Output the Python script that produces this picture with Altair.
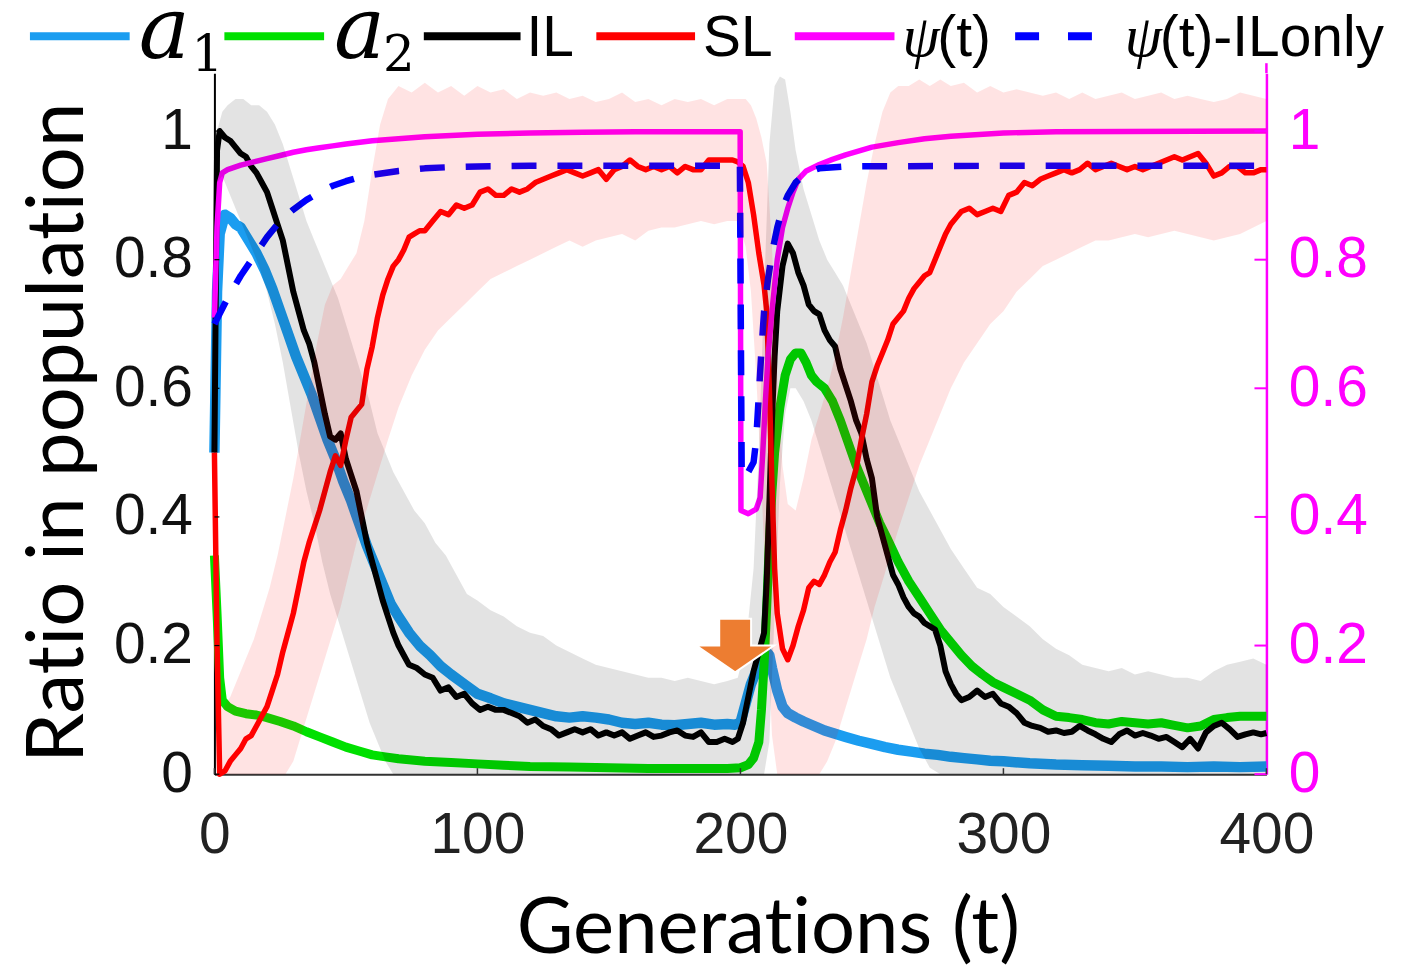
import altair as alt
import pandas as pd

# ---------------- data ----------------
A1 = [(0,0.50),(1,0.75),(2,0.84),(4,0.87),(6,0.865),(8,0.855),(10,0.85),(13,0.83),(16,0.81),(19,0.785),
      (22,0.755),(25,0.72),(28,0.685),(31,0.65),(34,0.62),(37,0.59),(40,0.555),(43,0.52),(46,0.49),(49,0.455),
      (52,0.425),(55,0.39),(58,0.355),(61,0.325),(64,0.295),(67,0.265),(70,0.245),(74,0.22),(78,0.20),(82,0.185),
      (86,0.168),(90,0.155),(95,0.14),(100,0.125),(105,0.118),(110,0.11),(115,0.105),(120,0.10),(125,0.095),
      (130,0.09),(135,0.088),(140,0.09),(145,0.088),(150,0.085),(155,0.08),(160,0.078),(165,0.08),(170,0.077),
      (175,0.076),(180,0.078),(185,0.08),(190,0.077),(195,0.078),(198,0.077),(200,0.08),(202,0.11),(204,0.14),
      (206,0.16),(208,0.18),(210,0.19),(211,0.185),(212,0.165),(214,0.13),(216,0.105),(218,0.095),(221,0.088),
      (224,0.082),(228,0.075),(232,0.068),(236,0.063),(240,0.058),(245,0.052),(250,0.047),(255,0.042),(260,0.038),
      (265,0.035),(270,0.032),(275,0.03),(280,0.027),(285,0.025),(290,0.023),(295,0.021),(300,0.02),(310,0.017),
      (320,0.015),(330,0.014),(340,0.013),(350,0.012),(360,0.012),(370,0.011),(380,0.012),(390,0.011),(400,0.012)]

A2 = [(0,0.34),(1,0.25),(2,0.15),(3,0.115),(5,0.105),(8,0.098),(12,0.094),(16,0.092),(20,0.088),(25,0.082),
      (30,0.075),(35,0.066),(40,0.058),(45,0.05),(50,0.042),(55,0.036),(60,0.03),(65,0.027),(70,0.024),(80,0.02),
      (90,0.018),(100,0.016),(110,0.014),(120,0.012),(135,0.011),(150,0.01),(165,0.009),(180,0.009),(195,0.009),
      (200,0.01),(203,0.015),(205,0.025),(207,0.05),(208,0.10),(209,0.17),(210,0.26),(211,0.36),(212,0.44),
      (213,0.50),(215,0.57),(217,0.62),(219,0.645),(221,0.655),(223,0.655),(225,0.64),(227,0.62),(229,0.61),
      (232,0.60),(235,0.58),(238,0.55),(241,0.515),(244,0.48),(247,0.45),(250,0.42),(253,0.39),(256,0.365),
      (260,0.33),(264,0.30),(268,0.275),(272,0.25),(276,0.225),(280,0.205),(284,0.185),(288,0.168),(292,0.155),
      (296,0.143),(300,0.135),(305,0.125),(310,0.115),(315,0.10),(320,0.09),(325,0.088),(330,0.085),(335,0.08),
      (340,0.078),(345,0.082),(350,0.08),(355,0.078),(360,0.08),(365,0.076),(370,0.072),(375,0.075),(380,0.085),
      (385,0.088),(390,0.09),(395,0.09),(400,0.09)]

IL = [(0,0.50),(1,0.97),(2,1.00),(4,0.99),(6,0.985),(8,0.975),(10,0.965),(12,0.96),(14,0.945),(16,0.935),
      (18,0.92),(20,0.905),(22,0.88),(24,0.855),(26,0.83),(28,0.79),(30,0.75),(32,0.72),(34,0.69),(36,0.67),
      (38,0.64),(40,0.60),(42,0.56),(44,0.525),(46,0.52),(48,0.53),(50,0.49),(52,0.465),(54,0.44),(56,0.40),
      (58,0.36),(60,0.33),(62,0.30),(64,0.27),(66,0.245),(68,0.22),(70,0.20),(72,0.185),(74,0.17),(77,0.165),
      (80,0.155),(83,0.15),(86,0.13),(89,0.135),(92,0.12),(95,0.125),(98,0.11),(101,0.10),(104,0.105),(107,0.10),
      (110,0.10),(113,0.095),(116,0.09),(119,0.08),(122,0.085),(125,0.075),(128,0.07),(131,0.06),(134,0.065),
      (137,0.07),(140,0.065),(143,0.07),(146,0.06),(149,0.065),(152,0.06),(155,0.065),(158,0.055),(161,0.06),
      (164,0.065),(167,0.058),(170,0.06),(173,0.065),(176,0.068),(179,0.06),(182,0.058),(185,0.065),(188,0.05),
      (191,0.05),(194,0.055),(197,0.05),(199,0.055),(201,0.08),(203,0.12),(205,0.16),(207,0.19),(209,0.22),
      (210,0.30),(211,0.42),(212,0.55),(213,0.65),(214,0.72),(216,0.79),(218,0.825),(220,0.81),(222,0.78),
      (224,0.76),(226,0.73),(228,0.72),(230,0.715),(232,0.69),(234,0.675),(236,0.665),(238,0.63),(240,0.605),
      (242,0.58),(244,0.55),(246,0.53),(248,0.49),(250,0.46),(252,0.40),(254,0.37),(256,0.34),(258,0.31),
      (260,0.295),(262,0.275),(264,0.26),(266,0.25),(268,0.245),(270,0.235),(272,0.23),(274,0.225),(276,0.20),
      (278,0.16),(280,0.14),(282,0.125),(284,0.115),(287,0.12),(290,0.13),(293,0.12),(296,0.125),(299,0.11),
      (302,0.105),(305,0.095),(308,0.08),(311,0.075),(314,0.072),(317,0.066),(320,0.068),(323,0.064),(326,0.066),
      (329,0.075),(332,0.068),(335,0.062),(338,0.055),(341,0.05),(344,0.062),(347,0.068),(350,0.06),(353,0.064),
      (356,0.06),(359,0.055),(362,0.058),(365,0.05),(368,0.042),(371,0.055),(374,0.04),(377,0.065),(380,0.075),
      (383,0.08),(386,0.07),(389,0.058),(392,0.062),(395,0.065),(398,0.062),(400,0.064)]

SL = [(0,0.50),(1,0.20),(2,0.0),(4,0.005),(6,0.02),(8,0.03),(10,0.04),(12,0.055),(14,0.06),(16,0.075),
      (18,0.09),(20,0.105),(22,0.13),(24,0.155),(26,0.19),(28,0.22),(30,0.25),(32,0.29),(34,0.33),(36,0.36),
      (38,0.385),(40,0.41),(42,0.44),(44,0.47),(46,0.495),(48,0.48),(50,0.52),(52,0.555),(54,0.565),(56,0.575),
      (58,0.63),(60,0.665),(62,0.71),(64,0.745),(66,0.77),(68,0.79),(70,0.80),(72,0.815),(74,0.835),(76,0.84),
      (78,0.845),(80,0.845),(83,0.86),(86,0.875),(89,0.87),(92,0.885),(95,0.88),(98,0.885),(101,0.905),(104,0.91),
      (107,0.90),(110,0.90),(113,0.91),(116,0.905),(119,0.91),(122,0.92),(125,0.925),(128,0.93),(131,0.935),
      (134,0.94),(137,0.935),(140,0.93),(143,0.935),(146,0.94),(149,0.925),(152,0.94),(155,0.945),(158,0.955),
      (161,0.945),(164,0.94),(167,0.945),(170,0.94),(173,0.945),(176,0.935),(179,0.945),(182,0.94),(185,0.94),
      (188,0.955),(191,0.955),(194,0.955),(197,0.955),(199,0.952),(201,0.945),(203,0.92),(205,0.87),(207,0.81),
      (209,0.76),(210,0.72),(211,0.60),(212,0.45),(213,0.32),(214,0.25),(216,0.195),(218,0.178),(220,0.20),
      (222,0.23),(224,0.255),(226,0.29),(228,0.30),(230,0.295),(232,0.31),(234,0.33),(236,0.345),(238,0.38),
      (240,0.41),(242,0.445),(244,0.475),(246,0.52),(248,0.56),(250,0.61),(252,0.635),(254,0.655),(256,0.675),
      (258,0.70),(260,0.71),(262,0.72),(264,0.74),(266,0.755),(268,0.765),(270,0.775),(272,0.78),(274,0.80),
      (276,0.82),(278,0.84),(280,0.855),(282,0.865),(284,0.875),(287,0.88),(290,0.87),(293,0.875),(296,0.88),
      (299,0.875),(302,0.90),(305,0.905),(308,0.92),(311,0.915),(314,0.925),(317,0.93),(320,0.935),(323,0.94),
      (326,0.935),(329,0.94),(332,0.95),(335,0.94),(338,0.945),(341,0.95),(344,0.945),(347,0.94),(350,0.945),
      (353,0.94),(356,0.945),(359,0.95),(362,0.955),(365,0.96),(368,0.955),(371,0.96),(374,0.965),(377,0.95),
      (380,0.93),(383,0.935),(386,0.945),(389,0.945),(392,0.935),(395,0.935),(398,0.94),(400,0.94)]

PSI = [(0,0.71),(1,0.85),(2,0.92),(3,0.935),(5,0.94),(10,0.947),(15,0.952),(20,0.957),(25,0.962),(30,0.967),
       (35,0.971),(40,0.974),(45,0.977),(50,0.98),(60,0.985),(70,0.988),(80,0.991),(90,0.993),(100,0.995),
       (120,0.997),(140,0.998),(160,0.999),(180,0.999),(199.9,0.999),(200.2,0.41),(203,0.405),(206,0.412),
       (207.5,0.43),(208.5,0.50),(209.5,0.58),(210.5,0.65),(212,0.72),(214,0.80),(216,0.85),(218,0.88),
       (220,0.905),(222,0.925),(225,0.938),(230,0.948),(235,0.956),(240,0.963),(250,0.975),(260,0.982),
       (270,0.988),(280,0.992),(300,0.997),(320,0.999),(400,1.0)]

PSI_IL = [(0,0.70),(5,0.74),(10,0.775),(15,0.805),(20,0.835),(25,0.86),(30,0.878),(35,0.893),(40,0.905),
          (45,0.915),(50,0.922),(55,0.928),(60,0.932),(70,0.938),(80,0.942),(90,0.944),(100,0.945),(120,0.946),
          (150,0.946),(180,0.946),(199.8,0.946),(200.5,0.46),(203,0.47),(205,0.485),(206,0.52),(207,0.59),
          (208,0.66),(209,0.72),(210.5,0.77),(212,0.81),(214,0.85),(216,0.88),(218,0.90),(221,0.92),(225,0.935),
          (230,0.942),(240,0.945),(300,0.946),(400,0.946)]

# shaded spread around IL (grey) and SL (pink): (t, lower, upper)
IL_BAND = [(0,0.50,0.52),(1,0.92,1.00),(3,0.93,1.03),(5,0.91,1.04),(8,0.88,1.05),(11,0.85,1.05),(14,0.82,1.04),
           (17,0.79,1.04),(20,0.75,1.03),(23,0.70,1.01),(26,0.64,0.98),(29,0.57,0.94),(32,0.50,0.90),(35,0.44,0.86),
           (38,0.39,0.83),(41,0.33,0.80),(44,0.28,0.77),(47,0.24,0.74),(50,0.20,0.70),(53,0.16,0.66),(56,0.12,0.62),
           (59,0.08,0.58),(62,0.05,0.53),(65,0.02,0.50),(68,0.0,0.47),(72,0.0,0.44),(76,0.0,0.41),(80,0.0,0.39),
           (84,0.0,0.36),(88,0.0,0.34),(92,0.0,0.31),(96,0.0,0.28),(100,0.0,0.27),(105,0.0,0.255),(110,0.0,0.245),
           (115,0.0,0.23),(120,0.0,0.22),(125,0.0,0.215),(130,0.0,0.20),(135,0.0,0.19),(140,0.0,0.18),(145,0.0,0.17),
           (150,0.0,0.165),(155,0.0,0.16),(160,0.0,0.155),(165,0.0,0.15),(170,0.0,0.15),(175,0.0,0.145),(180,0.0,0.15),
           (185,0.0,0.145),(190,0.0,0.14),(195,0.0,0.145),(199,0.0,0.15),(202,0.0,0.20),(205,0.0,0.32),(207,0.0,0.50),
           (209,0.0,0.75),(211,0.05,0.98),(213,0.25,1.07),(215,0.45,1.085),(217,0.56,1.08),(219,0.60,1.03),
           (221,0.60,0.97),(224,0.58,0.91),(227,0.55,0.87),(230,0.51,0.83),(233,0.47,0.80),(236,0.43,0.78),
           (239,0.39,0.76),(242,0.35,0.73),(245,0.31,0.70),(248,0.27,0.67),(251,0.23,0.63),(254,0.19,0.59),
           (257,0.15,0.55),(260,0.12,0.52),(264,0.08,0.48),(268,0.04,0.44),(272,0.01,0.41),(276,0.0,0.38),
           (280,0.0,0.35),(285,0.0,0.32),(290,0.0,0.29),(295,0.0,0.28),(300,0.0,0.26),(305,0.0,0.245),(310,0.0,0.23),
           (315,0.0,0.21),(320,0.0,0.195),(325,0.0,0.185),(330,0.0,0.17),(335,0.0,0.165),(340,0.0,0.16),
           (345,0.0,0.165),(350,0.0,0.155),(355,0.0,0.16),(360,0.0,0.155),(365,0.0,0.15),(370,0.0,0.15),
           (375,0.0,0.145),(380,0.0,0.16),(385,0.0,0.17),(390,0.0,0.175),(395,0.0,0.18),(400,0.0,0.17)]

SL_BAND = [(0,0.45,0.55),(1,0.0,0.30),(3,0.0,0.10),(6,0.0,0.12),(9,0.0,0.15),(12,0.0,0.18),(15,0.0,0.21),
           (18,0.0,0.25),(21,0.0,0.29),(24,0.0,0.34),(27,0.0,0.40),(30,0.02,0.46),(33,0.06,0.53),(36,0.10,0.60),
           (39,0.14,0.67),(42,0.18,0.73),(45,0.22,0.76),(48,0.26,0.77),(51,0.31,0.79),(54,0.36,0.81),(57,0.40,0.86),
           (60,0.44,0.94),(63,0.48,1.01),(66,0.52,1.05),(70,0.57,1.07),(75,0.62,1.06),(80,0.66,1.075),(85,0.69,1.06),
           (90,0.71,1.07),(95,0.73,1.055),(100,0.75,1.07),(105,0.77,1.06),(110,0.78,1.065),(115,0.79,1.05),
           (120,0.80,1.06),(125,0.81,1.055),(130,0.82,1.06),(135,0.83,1.05),(140,0.82,1.055),(145,0.83,1.045),
           (150,0.835,1.05),(155,0.84,1.06),(160,0.83,1.045),(165,0.845,1.05),(170,0.85,1.04),(175,0.85,1.05),
           (180,0.855,1.045),(185,0.86,1.05),(190,0.855,1.04),(195,0.86,1.05),(199,0.86,1.05),(202,0.82,1.05),
           (204,0.75,1.04),(206,0.62,1.02),(208,0.45,0.99),(210,0.25,0.95),(212,0.06,0.82),(214,0.0,0.62),
           (216,0.0,0.48),(218,0.0,0.42),(221,0.0,0.41),(224,0.0,0.46),(227,0.0,0.52),(230,0.0,0.56),(233,0.02,0.60),
           (236,0.05,0.65),(239,0.09,0.71),(242,0.13,0.78),(245,0.17,0.85),(248,0.21,0.92),(251,0.26,0.98),
           (254,0.30,1.03),(257,0.34,1.06),(260,0.38,1.07),(264,0.43,1.07),(268,0.48,1.08),(272,0.52,1.07),
           (276,0.56,1.08),(280,0.60,1.07),(285,0.64,1.075),(290,0.67,1.06),(295,0.70,1.07),(300,0.72,1.06),
           (305,0.75,1.065),(310,0.77,1.06),(315,0.79,1.055),(320,0.80,1.06),(325,0.81,1.05),(330,0.82,1.06),
           (335,0.83,1.05),(340,0.83,1.055),(345,0.835,1.06),(350,0.84,1.05),(355,0.835,1.055),(360,0.84,1.06),
           (365,0.845,1.05),(370,0.84,1.055),(375,0.835,1.05),(380,0.83,1.045),(385,0.835,1.05),(390,0.84,1.06),
           (395,0.85,1.055),(400,0.86,1.05)]

ARROW = [(198, 0.20)]
X_TICKS = [0, 100, 200, 300, 400]
Y_TICKS = [0, 0.2, 0.4, 0.6, 0.8, 1.0]

# ---------------- layout / style ----------------
W, H = 1055, 703
YMAX = 1.09
C_A1, C_A2, C_IL, C_SL, C_PSI, C_PSI2 = "#1B9DF0", "#00E000", "#000000", "#FF0000", "#FF00FF", "#0000FF"
SANS = "Liberation Sans"
TITLE_FONT = "Lato"
ZWNJ = "\u200c"  # keeps Lato from fusing "ti" into a ligature

xs = alt.Scale(domain=[0, 400], nice=False, zero=False)
ys = alt.Scale(domain=[0, YMAX], nice=False, zero=False)

def frame(pairs, cols=("t", "v")):
    return pd.DataFrame(pairs, columns=list(cols))

x_axis = alt.Axis(values=X_TICKS, labelFont=SANS, labelFontSize=57, labelColor="#222222",
                  labelPadding=34, tickSize=0, domainColor="#333333", domainWidth=2, grid=False,
                  labelFlush=False, title=f"Generat{ZWNJ}ions (t)", titleFont=TITLE_FONT, titleFontSize=78,
                  titleFontWeight="normal", titleColor="#000000", titleX=555, titleY=179,
                  titleBaseline="alphabetic", titleAlign="center")
y_axis_left = alt.Axis(values=Y_TICKS, format="~g", labelFont=SANS, labelFontSize=57, labelColor="#111111",
                       labelPadding=22, tickSize=0, domainColor="#000000", domainWidth=2, grid=False,
                       labelFlush=False, title=f"Rat{ZWNJ}io in populat{ZWNJ}ion", titleFont=TITLE_FONT,
                       titleFontSize=80, titleFontWeight="normal", titleColor="#000000", titleAngle=270,
                       titleX=-132, titleY=360, titleBaseline="alphabetic", titleAlign="center")
y_axis_right = alt.Axis(values=Y_TICKS, format="~g", orient="right", labelFont=SANS, labelFontSize=57,
                        labelColor=C_PSI, labelPadding=22, tickSize=0, domainColor=C_PSI, domainWidth=2.5,
                        grid=False, labelFlush=False, title=None)


def X(field="t"):
    # every layer carries the identical x-axis definition so the merged axis keeps it
    return alt.X(f"{field}:Q", scale=xs, axis=x_axis)


def line(pairs, color, width, dash=None, yaxis=None):
    kw = dict(color=color, strokeWidth=width, strokeJoin="round")
    if dash:
        kw["strokeDash"] = dash
    return alt.Chart(frame(pairs)).mark_line(**kw).encode(
        x=X(), y=alt.Y("v:Q", scale=ys, axis=yaxis))


def band(rows, color):
    return alt.Chart(frame(rows, ("t", "lo", "hi"))).mark_area(color=color, opacity=0.11).encode(
        x=X(), y=alt.Y("hi:Q", scale=ys, axis=None), y2="lo:Q")


layers = [
    line(A1, C_A1, 10.5, yaxis=y_axis_left),
    line(A2, C_A2, 9),
    line(IL, C_IL, 6),
    line(SL, C_SL, 5.5),
    line(PSI, C_PSI, 5.5, yaxis=y_axis_right),
    line(PSI_IL, C_PSI2, 6.5, dash=[25, 21]),
    band(IL_BAND, "#000000"),
    band(SL_BAND, "#FF0000"),
]

one = alt.Data(values=[{"k": 0}])

# inward tick marks and the slightly taller right-hand axis line
tick_df = pd.DataFrame({"v": Y_TICKS})
layers.append(alt.Chart(tick_df).mark_rule(color=C_PSI, strokeWidth=2).encode(
    y=alt.Y("v:Q", scale=ys, axis=None), x=alt.value(W - 12), x2=alt.value(W)))
layers.append(alt.Chart(tick_df).mark_rule(color="#000000", strokeWidth=1.2).encode(
    y=alt.Y("v:Q", scale=ys, axis=None), x=alt.value(0), x2=alt.value(5)))
layers.append(alt.Chart(pd.DataFrame({"t": X_TICKS})).mark_rule(color="#333333", strokeWidth=1.5).encode(
    x=X(), y=alt.value(H), y2=alt.value(H - 6)))
layers.append(alt.Chart(one).mark_rule(color=C_PSI, strokeWidth=2.5).encode(
    x=alt.value(W), y=alt.value(-10), y2=alt.value(0)))

# orange block arrow annotation
ARROW_PATH = "M-0.41,-0.69 L0.41,-0.69 L0.41,0 L1,0 L0,0.69 L-1,0 L-0.41,0 Z"
layers.append(alt.Chart(frame(ARROW)).mark_point(shape=ARROW_PATH, size=6084, filled=True, opacity=1,
                                                 fill="#ED7D31", stroke="#FFFFFF", strokeWidth=2).encode(
    x=X(), y=alt.Y("v:Q", scale=ys, axis=None)))

# ---------------- manual legend (above the plot) ----------------
LEG_Y = -37
leg_lines = [(-185, -85, C_A1, None), (10, 110, C_A2, None), (210, 307, C_IL, None),
             (383, 482, C_SL, None), (582, 682, C_PSI, None), (803, 882, C_PSI2, [24, 29])]
for x0, x1, col, dash in leg_lines:
    kw = dict(color=col, strokeWidth=8)
    if dash:
        kw["strokeDash"] = dash
    layers.append(alt.Chart(one).mark_rule(**kw).encode(
        x=alt.value(x0), x2=alt.value(x1), y=alt.value(LEG_Y)))

leg_texts = [
    ("a", -76, -15, "DejaVu Serif", 86, "italic"),
    ("1", -23, -2, "DejaVu Serif", 50, "normal"),
    ("a", 120, -15, "DejaVu Serif", 86, "italic"),
    ("2", 169, -2, "DejaVu Serif", 50, "normal"),
    ("IL", 313, -17, SANS, 57, "normal"),
    ("SL", 490, -17, SANS, 57, "normal"),
    ("\u03c8", 690, -17, "Liberation Serif", 60, "italic"),
    ("(t)", 725, -17, SANS, 57, "normal"),
    ("\u03c8", 913, -17, "Liberation Serif", 60, "italic"),
    ("(t)-ILonly", 948, -17, SANS, 57, "normal"),
]
for txt, px, py, font, size, style in leg_texts:
    layers.append(alt.Chart(one).mark_text(text=txt, font=font, fontSize=size, fontStyle=style,
                                           align="left", baseline="alphabetic", color="#000000").encode(
        x=alt.value(px), y=alt.value(py)))

chart = alt.layer(*layers).resolve_scale(y="independent").properties(
    width=W, height=H,
    autosize=alt.AutoSizeParams(type="none"),
    padding={"left": 207, "top": 64, "right": 150, "bottom": 190},
    background="white",
).configure_view(stroke=None)

chart.save("out.html", embed_options={"renderer": "svg", "actions": False})
